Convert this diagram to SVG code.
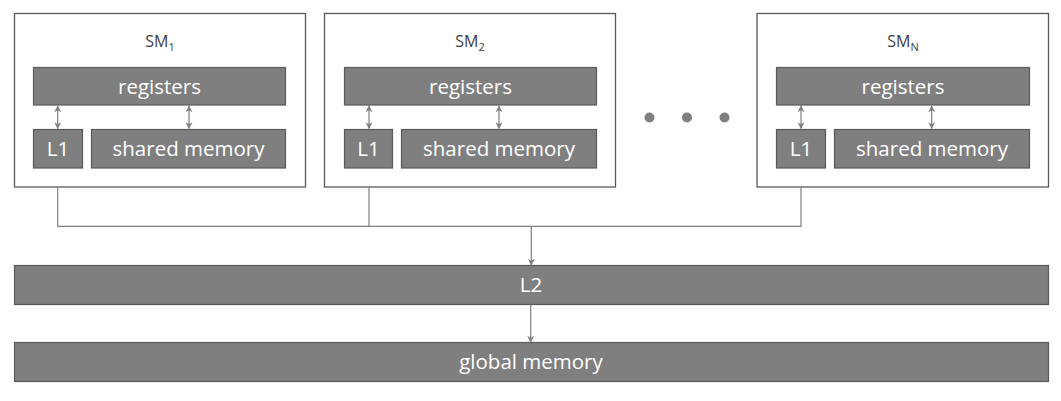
<svg xmlns="http://www.w3.org/2000/svg" width="1061" height="401" viewBox="0 0 1061 401">
<style>
.sm{fill:#ffffff;stroke:#595959;stroke-width:1.3}
.blk{fill:#7f7f7f;stroke:#595959;stroke-width:1.2}
.lbl{font-family:"Open Sans","Liberation Sans",sans-serif;font-size:20.5px;fill:#ffffff;text-anchor:middle}
.title{font-family:"Open Sans","Liberation Sans",sans-serif;font-size:16px;fill:#404040;text-anchor:middle}
.sub{font-size:11px}
.con{fill:none;stroke:#7f7f7f;stroke-width:1.2}
.dot{fill:#7f7f7f}
</style>
<defs>
<marker id="ah" viewBox="0 0 10 10" refX="9" refY="5" markerWidth="7" markerHeight="7" markerUnits="userSpaceOnUse" orient="auto-start-reverse">
<path d="M0,0 L10,5 L0,10 L3,5 Z" fill="#7f7f7f"/>
</marker>
</defs>
<rect width="1061" height="401" fill="#ffffff"/>
<g id="sm1">
<rect class="sm" x="14.5" y="13.5" width="291" height="173.5"/>
<text class="title" x="160" y="47">SM<tspan class="sub" dy="4">1</tspan></text>
<rect class="blk" x="33.5" y="67.5" width="252" height="37.5"/>
<text class="lbl" x="159.5" y="93.5">registers</text>
<rect class="blk" x="33.5" y="129.5" width="49" height="38.5"/>
<text class="lbl" x="58" y="156">L1</text>
<rect class="blk" x="91.5" y="129.5" width="194" height="38.5"/>
<text class="lbl" x="188.5" y="156">shared memory</text>
</g>
<g id="sm2">
<rect class="sm" x="324.5" y="13.5" width="291" height="173.5"/>
<text class="title" x="470" y="47">SM<tspan class="sub" dy="4">2</tspan></text>
<rect class="blk" x="344.5" y="67.5" width="252" height="37.5"/>
<text class="lbl" x="470.5" y="93.5">registers</text>
<rect class="blk" x="344.5" y="129.5" width="48" height="38.5"/>
<text class="lbl" x="368.5" y="156">L1</text>
<rect class="blk" x="401.5" y="129.5" width="195" height="38.5"/>
<text class="lbl" x="499" y="156">shared memory</text>
</g>
<g id="dots">
<circle class="dot" cx="649.5" cy="117.5" r="5"/>
<circle class="dot" cx="687" cy="117.5" r="5"/>
<circle class="dot" cx="724.5" cy="117.5" r="5"/>
</g>
<g id="smN">
<rect class="sm" x="757" y="13.5" width="291.5" height="173.5"/>
<text class="title" x="903" y="47">SM<tspan class="sub" dy="4">N</tspan></text>
<rect class="blk" x="776.5" y="67.5" width="253" height="37.5"/>
<text class="lbl" x="903" y="93.5">registers</text>
<rect class="blk" x="776.5" y="129.5" width="49" height="38.5"/>
<text class="lbl" x="801" y="156">L1</text>
<rect class="blk" x="834.5" y="129.5" width="195" height="38.5"/>
<text class="lbl" x="932" y="156">shared memory</text>
</g>
<g id="l2">
<rect class="blk" x="14.5" y="265.5" width="1034" height="39"/>
<text class="lbl" x="531" y="292">L2</text>
</g>
<g id="global">
<rect class="blk" x="14.5" y="342.5" width="1034" height="39"/>
<text class="lbl" x="531" y="369">global memory</text>
</g>
<g id="connectors">
<line class="con" x1="57.7" y1="106" x2="57.7" y2="128.5" marker-start="url(#ah)" marker-end="url(#ah)"/>
<line class="con" x1="189" y1="106" x2="189" y2="128.5" marker-start="url(#ah)" marker-end="url(#ah)"/>
<line class="con" x1="369" y1="106" x2="369" y2="128.5" marker-start="url(#ah)" marker-end="url(#ah)"/>
<line class="con" x1="499" y1="106" x2="499" y2="128.5" marker-start="url(#ah)" marker-end="url(#ah)"/>
<line class="con" x1="801" y1="106" x2="801" y2="128.5" marker-start="url(#ah)" marker-end="url(#ah)"/>
<line class="con" x1="931.7" y1="106" x2="931.7" y2="128.5" marker-start="url(#ah)" marker-end="url(#ah)"/>
<path class="con" d="M57.7,187 V226.3 H801 V187 M369,187 V226.3"/>
<line class="con" x1="531.3" y1="226.3" x2="531.3" y2="265" marker-end="url(#ah)"/>
<line class="con" x1="530.7" y1="305" x2="530.7" y2="342" marker-end="url(#ah)"/>
</g>
</svg>
